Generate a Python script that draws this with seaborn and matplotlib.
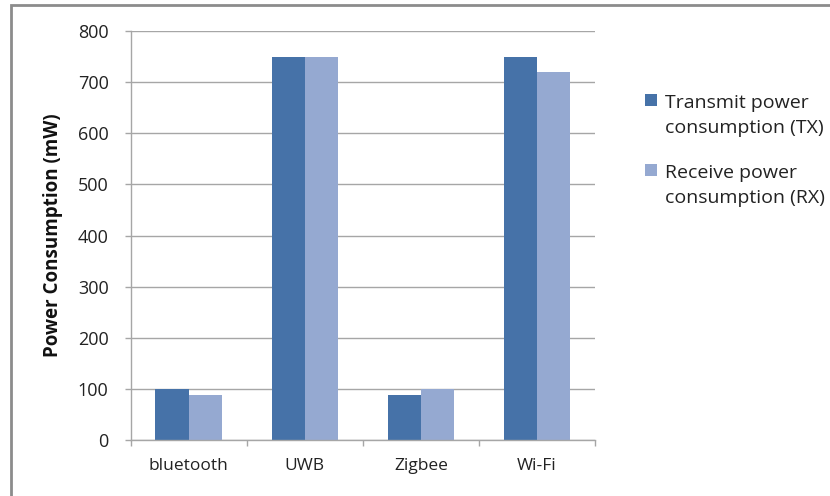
import matplotlib.pyplot as plt
import matplotlib.patches as mpatches
import pandas as pd
import seaborn as sns

# Data
technologies = ['bluetooth', 'UWB', 'Zigbee', 'Wi-Fi']
tx_power = [100, 750, 88, 750]
rx_power = [88, 750, 100, 720]
series_names = ['Transmit power\nconsumption (TX)', 'Receive power\nconsumption (RX)']
y_ticks = [0, 100, 200, 300, 400, 500, 600, 700, 800]

df = pd.DataFrame({
    'Technology': technologies * 2,
    'Power': tx_power + rx_power,
    'Series': [series_names[0]] * len(technologies) + [series_names[1]] * len(technologies),
})

sns.set_style('white')
plt.rcParams['font.family'] = ['Open Sans', 'DejaVu Sans']

W, H = 830, 496
fig = plt.figure(figsize=(W / 100, H / 100), dpi=100)
ax = fig.add_axes([130.5 / W, 0.1129, 464.5 / W, 0.8246])

palette = ['#4672A8', '#95A9D1']
sns.barplot(data=df, x='Technology', y='Power', hue='Series', palette=palette,
            width=0.57, gap=0, saturation=1, linewidth=0, ax=ax, legend=False)

ax.set_ylim(0, 800)
ax.set_yticks(y_ticks)
ax.set_xlim(-0.5, len(technologies) - 0.5)
ax.yaxis.grid(True, color='#a6a6a6', linewidth=1)
ax.set_axisbelow(True)
ax.set_xlabel('')
ax.set_ylabel('Power Consumption (mW)', fontsize=13.5, fontweight='bold', color='#111111')
ax.yaxis.set_label_coords(-0.145, 0.5)

for side in ['top', 'right']:
    ax.spines[side].set_visible(False)
for side in ['left', 'bottom']:
    ax.spines[side].set_color('#a6a6a6')
    ax.spines[side].set_linewidth(1)

# category separator ticks on x axis
ax.set_xticks(range(len(technologies)))
ax.set_xticklabels(technologies, fontsize=12.5, color='#222222')
ax.set_xticks([i - 0.5 for i in range(len(technologies) + 1)], minor=True)
ax.tick_params(axis='x', which='major', length=0, pad=13)
ax.tick_params(axis='x', which='minor', length=4.3, color='#a6a6a6', width=1, direction='out')
ax.tick_params(axis='y', length=4.3, color='#a6a6a6', width=1, direction='out', labelsize=13,
               labelcolor='#222222', pad=11.5)
ax.yaxis.set_ticks_position('left')
ax.xaxis.set_ticks_position('bottom')

# legend outside the plot, marker level with the first text line
legend_first_baseline = [108, 178]
for name, color, base in zip(series_names, palette, legend_first_baseline):
    fig.patches.append(mpatches.Rectangle((645 / W, 1 - (base - 2) / H), 12 / W, 12 / H,
                                          transform=fig.transFigure, facecolor=color,
                                          edgecolor='none'))
    for i, line in enumerate(name.split('\n')):
        fig.text(665 / W, 1 - (base + 25 * i) / H, line, fontsize=14, color='#222222',
                 va='baseline', ha='left')

# outer chart frame
frame = mpatches.Rectangle((11 / W, -0.02), 1.0, 1 - 5 / H + 0.02, transform=fig.transFigure,
                           fill=False, edgecolor='#8c8c8c', linewidth=2, clip_on=False)
fig.patches.append(frame)

fig.savefig('out.png', dpi=100)
